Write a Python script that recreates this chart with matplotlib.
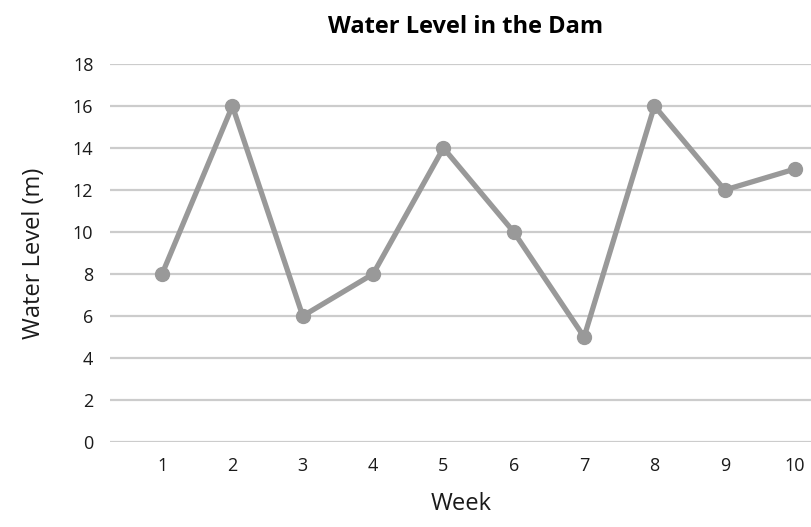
import matplotlib.pyplot as plt

weeks = [1, 2, 3, 4, 5, 6, 7, 8, 9, 10]
levels = [8, 16, 6, 8, 14, 10, 5, 16, 12, 13]
yticks = [0, 2, 4, 6, 8, 10, 12, 14, 16, 18]

plt.rcParams['font.family'] = ['Open Sans', 'DejaVu Sans']

fig = plt.figure(figsize=(8.12, 5.27), dpi=100)
ax = fig.add_axes([0.1355, 0.1613, 0.8645, 0.7173])

ax.plot(weeks, levels, color='#999999', linewidth=3.8, marker='o',
        markersize=10, markerfacecolor='#999999', markeredgecolor='#999999',
        zorder=3, clip_on=False)

ax.set_xlim(0.26, 10.24)
ax.set_ylim(0, 18)
ax.set_xticks(weeks)
ax.set_yticks(yticks)
ax.yaxis.grid(True, color='#cccccc', linewidth=1.6)
ax.set_axisbelow(True)
for s in ax.spines.values():
    s.set_visible(False)
ax.tick_params(length=0, labelsize=13, colors='#1a1a1a')
ax.tick_params(axis='y', pad=12)
ax.tick_params(axis='x', pad=11)

ax.set_title('Water Level in the Dam', fontsize=17, fontweight='bold', pad=22, x=0.507)
ax.set_xlabel('Week', fontsize=17, labelpad=12, color='#1a1a1a')
ax.set_ylabel('Water Level (m)', fontsize=17, labelpad=19, color='#1a1a1a')

fig.savefig('out.png', dpi=100)
